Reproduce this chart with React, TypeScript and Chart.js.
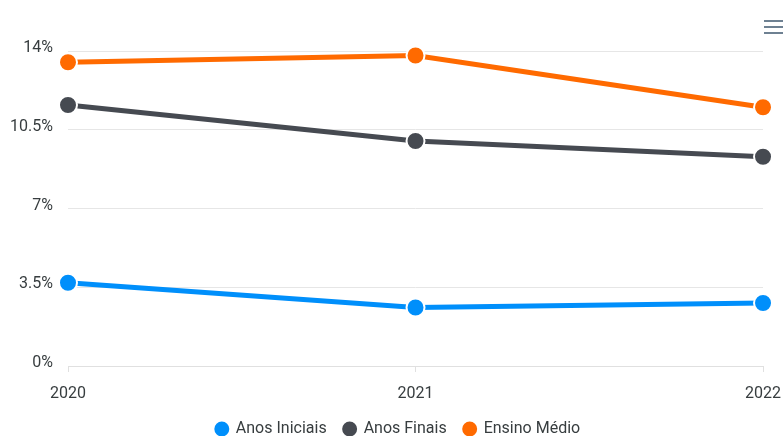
import React, { useEffect, useRef } from "react";
import { Chart, registerables } from "chart.js";

Chart.register(...registerables);

const categories = ["2020", "2021", "2022"];
const anosIniciais = [3.7, 2.6, 2.8];
const anosFinais = [11.6, 10.0, 9.3];
const ensinoMedio = [13.5, 13.8, 11.5];
const yTicks = [0, 3.5, 7, 10.5, 14];

const seriesNames = ["Anos Iniciais", "Anos Finais", "Ensino Médio"];
const seriesColors = ["#008FFB", "#464A51", "#FF6A00"];

const menuPlugin = {
  id: "menuIcon",
  afterLayout(chart: any) {
    if (chart.legend) {
      chart.legend.left += 6;
      chart.legend.right += 6;
    }
  },
  afterDraw(chart: any) {
    const ctx = chart.ctx;
    ctx.save();
    ctx.fillStyle = "#6E8192";
    [20, 26, 32].forEach((y) => ctx.fillRect(764, y, 19, 2));
    ctx.restore();
  },
};

export default function App() {
  const ref = useRef<HTMLCanvasElement>(null);
  useEffect(() => {
    if (!ref.current) return;
    const sets = [anosIniciais, anosFinais, ensinoMedio];
    const chart = new Chart(ref.current, {
      type: "line",
      data: {
        labels: categories,
        datasets: sets.map((d, i) => ({
          label: seriesNames[i],
          data: d,
          borderColor: seriesColors[i],
          backgroundColor: seriesColors[i],
          borderWidth: 5,
          pointRadius: 9,
          pointHoverRadius: 9,
          pointBorderWidth: 2,
          pointBorderColor: "#ffffff",
          pointBackgroundColor: seriesColors[i],
          tension: 0,
          clip: false as any,
        })),
      },
      options: {
        responsive: false,
        animation: false,
        layout: { padding: { top: 51, right: 0, left: 0, bottom: -11 } },
        plugins: {
          legend: {
            position: "bottom",
            labels: {
              usePointStyle: true,
              pointStyle: "circle",
              boxWidth: 12,
              boxHeight: 12,
              padding: 17,
              color: "#373d3f",
              font: { family: "Roboto", size: 16 },
            },
          },
          tooltip: { enabled: false },
        },
        scales: {
          x: {
            afterFit: (s: any) => {
              s.height = 38;
            },
            grid: {
              display: true,
              drawOnChartArea: false,
              drawTicks: true,
              tickLength: 6,
              color: "#e0e0e0",
            },
            border: { display: true, color: "#e0e0e0" },
            ticks: {
              padding: 3,
              color: "#373d3f",
              font: { family: "Roboto", size: 16, lineHeight: 2.375 },
              maxRotation: 0,
            },
          },
          y: {
            min: 0,
            max: 14,
            afterFit: (s: any) => {
              s.width = 68;
            },
            afterBuildTicks: (s: any) => {
              s.ticks = yTicks.map((v) => ({ value: v }));
            },
            grid: { color: "#e6e6e6", drawTicks: false },
            border: { display: false },
            ticks: {
              padding: 15,
              labelOffset: -3,
              color: "#373d3f",
              font: { family: "Roboto", size: 16 },
              callback: (v: any) => `${v}%`,
            },
          },
        },
      },
      plugins: [menuPlugin],
    });
    return () => chart.destroy();
  }, []);
  return (
    <div style={{ position: "fixed", left: 0, top: 0, width: 784, height: 436, background: "#fff" }}>
      <canvas ref={ref} width={784} height={436} style={{ width: 784, height: 436 }} />
    </div>
  );
}
